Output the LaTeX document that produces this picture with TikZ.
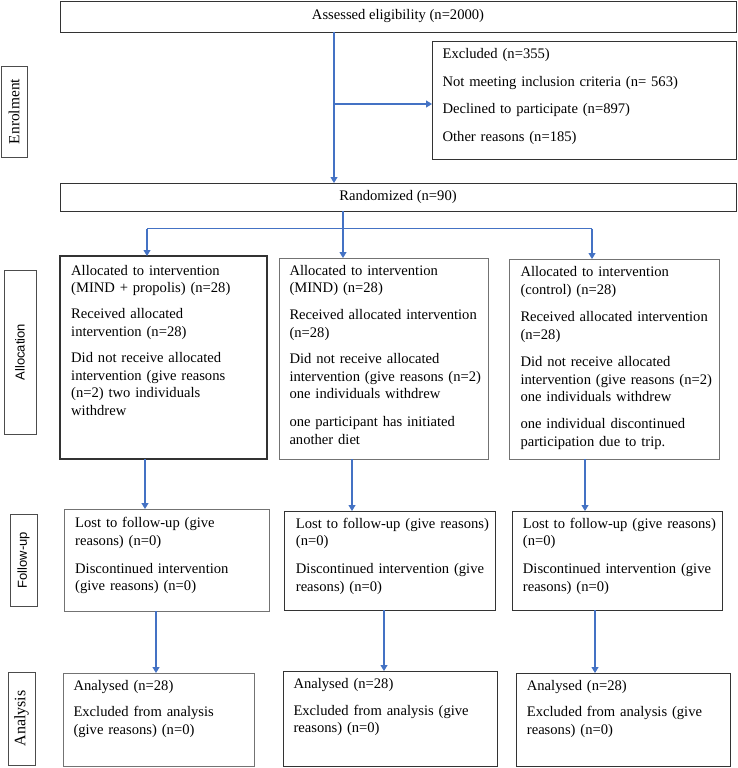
\documentclass[tikz,border=0pt]{standalone}
\usepackage{fontspec}
\setmainfont{Liberation Serif}
\newfontfamily\labsans{Liberation Sans}
\usetikzlibrary{arrows.meta}
\definecolor{arrblue}{HTML}{4472C4}
\newcommand\mytextfont{\fontsize{14.6}{17.5}\selectfont}
\begin{document}
\begin{tikzpicture}[x=1pt,y=-1pt,
  box/.style={draw=black!80, line width=0.9pt, inner sep=0pt, outer sep=0pt, anchor=north west, font=\mytextfont},
  gbox/.style={box, draw=black!55},
  lab/.style={draw=black!70, line width=0.9pt, inner sep=0pt, outer sep=0pt, rotate=90},
  txt/.style={anchor=north west, inner sep=0pt, text width=240pt, align=left, font=\mytextfont},
  arr/.style={draw=arrblue, line width=1.1pt, -{Triangle[width=7pt,length=6pt]}},
  bl/.style={draw=arrblue, line width=1.1pt},
]
\useasboundingbox (0,0) rectangle (738,768);

% main boxes
\node[box, minimum width=676, minimum height=31] (assess) at (60,1) {Assessed eligibility (n=2000)};
\node[box, minimum width=304, minimum height=118] (excl) at (432,41) {};
\node[box, minimum width=676, minimum height=28] (rand) at (60,183) {Randomized (n=90)};

\node[box, draw=black!80, line width=1.1pt, minimum width=207, minimum height=203] (a1) at (60,256) {};
\node[gbox, minimum width=209, minimum height=201] (a2) at (279,258) {};
\node[gbox, minimum width=210, minimum height=200] (a3) at (509,259) {};

\node[gbox, minimum width=205, minimum height=102] (fu1) at (64,509) {};
\node[box, minimum width=211, minimum height=99] (fu2) at (284,511) {};
\node[box, minimum width=210, minimum height=99] (fu3) at (512,511) {};

\node[gbox, minimum width=191, minimum height=93] (an1) at (63,673) {};
\node[box, minimum width=214, minimum height=95] (an2) at (283,671) {};
\node[box, minimum width=214, minimum height=93] (an3) at (516,673) {};

% texts
\node[txt] (exclt) at (442.4,47.7) {\rule{0pt}{11pt}Excluded (n=355)\\[10pt]
Not meeting inclusion criteria (n= 563)\\[10pt]
Declined to participate (n=897)\\[10pt]
Other reasons (n=185)};

\node[txt] (a1t) at (71,264) {\rule{0pt}{11pt}Allocated to intervention\\
(MIND + propolis) (n=28)\\[8.6pt]
Received allocated\\
intervention (n=28)\\[8.8pt]
Did not receive allocated\\
intervention (give reasons\\
(n=2) two individuals\\
withdrew};

\node[txt] (a2t) at (289.3,264) {\rule{0pt}{11pt}Allocated to intervention\\
(MIND) (n=28)\\[9.5pt]
Received allocated intervention\\
(n=28)\\[9pt]
Did not receive allocated\\
intervention (give reasons (n=2)\\
one individuals withdrew\\[10.5pt]
one participant has initiated\\
another diet};

\node[txt] (a3t) at (520.3,265.7) {\rule{0pt}{11pt}Allocated to intervention\\
(control) (n=28)\\[10pt]
Received allocated intervention\\
(n=28)\\[10pt]
Did not receive allocated\\
intervention (give reasons (n=2)\\
one individuals withdrew\\[9.5pt]
one individual discontinued\\
participation due to trip.};

\node[txt] (fu1t) at (75,516.7) {\rule{0pt}{11pt}Lost to follow-up (give\\
reasons) (n=0)\\[10.5pt]
Discontinued intervention\\
(give reasons) (n=0)};

\node[txt] (fu2t) at (295.7,517) {\rule{0pt}{11pt}Lost to follow-up (give reasons)\\
(n=0)\\[10.5pt]
Discontinued intervention (give\\
reasons) (n=0)};

\node[txt] (fu3t) at (522.7,517) {\rule{0pt}{11pt}Lost to follow-up (give reasons)\\
(n=0)\\[10.5pt]
Discontinued intervention (give\\
reasons) (n=0)};

\node[txt] (an1t) at (73.3,679) {\rule{0pt}{11pt}Analysed (n=28)\\[9pt]
Excluded from analysis\\
(give reasons) (n=0)};

\node[txt] (an2t) at (293.3,677.3) {\rule{0pt}{11pt}Analysed (n=28)\\[9pt]
Excluded from analysis (give\\
reasons) (n=0)};

\node[txt] (an3t) at (526.7,679) {\rule{0pt}{11pt}Analysed (n=28)\\[9pt]
Excluded from analysis (give\\
reasons) (n=0)};

% side labels
\node[lab, minimum width=91, minimum height=26, font=\fontsize{15.4}{18}\selectfont] (enrol) at (14,111.5) {Enrolment};
\node[lab, minimum width=164, minimum height=32, font=\labsans\fontsize{13}{15}\selectfont] (alloc) at (20,352) {Allocation};
\node[lab, minimum width=92, minimum height=27, font=\labsans\fontsize{13}{15}\selectfont] (follow) at (23.5,560) {Follow-up};
\node[lab, minimum width=93, minimum height=27, font=\fontsize{16}{18}\selectfont] (analysis) at (21.5,718.5) {Analysis};

% connectors
\coordinate (trunk) at (334,0);
\coordinate (br) at (334,104);
\coordinate (split) at (343,228.5);
\coordinate (h1) at (147,228.5);
\coordinate (h3) at (592,228.5);
\coordinate (v1) at (145,0);
\coordinate (v2) at (352,0);
\coordinate (v3) at (585,0);
\coordinate (w1) at (156,0);
\coordinate (w2) at (384,0);
\coordinate (w3) at (595,0);

\draw[arr] (assess.south -| trunk) -- (rand.north -| trunk);
\draw[arr] (br) -- (br -| excl.west);
\draw[bl] (rand.south -| split) -- (split);
\draw[bl] (h1) -- (h3);
\draw[arr] (h1) -- (h1 |- a1.north);
\draw[arr] (split) -- (split |- a2.north);
\draw[arr] (h3) -- (h3 |- a3.north);

\draw[arr] (a1.south -| v1) -- (fu1.north -| v1);
\draw[arr] (a2.south -| v2) -- (fu2.north -| v2);
\draw[arr] (a3.south -| v3) -- (fu3.north -| v3);

\draw[arr] (fu1.south -| w1) -- (an1.north -| w1);
\draw[arr] (fu2.south -| w2) -- (an2.north -| w2);
\draw[arr] (fu3.south -| w3) -- (an3.north -| w3);
\end{tikzpicture}
\end{document}
